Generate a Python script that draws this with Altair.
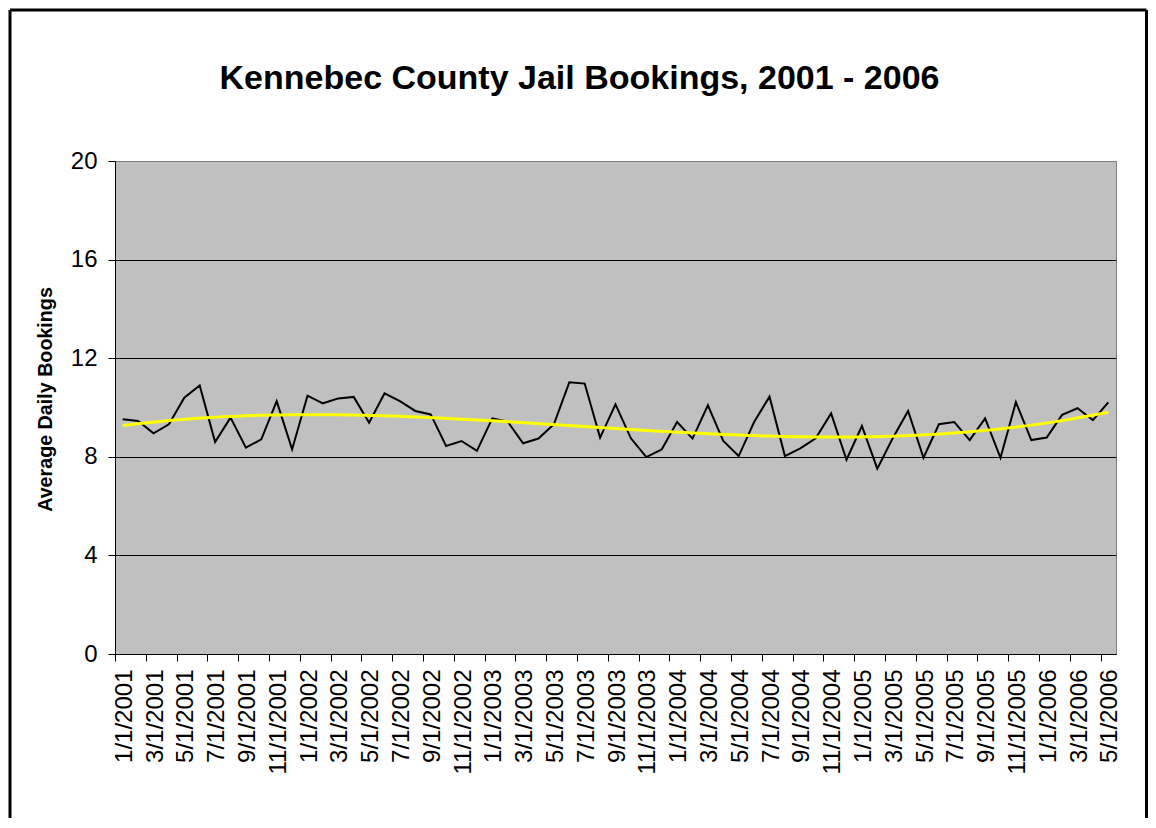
import altair as alt
import pandas as pd

months = [
    "1/1/2001", "2/1/2001", "3/1/2001", "4/1/2001", "5/1/2001", "6/1/2001",
    "7/1/2001", "8/1/2001", "9/1/2001", "10/1/2001", "11/1/2001", "12/1/2001",
    "1/1/2002", "2/1/2002", "3/1/2002", "4/1/2002", "5/1/2002", "6/1/2002",
    "7/1/2002", "8/1/2002", "9/1/2002", "10/1/2002", "11/1/2002", "12/1/2002",
    "1/1/2003", "2/1/2003", "3/1/2003", "4/1/2003", "5/1/2003", "6/1/2003",
    "7/1/2003", "8/1/2003", "9/1/2003", "10/1/2003", "11/1/2003", "12/1/2003",
    "1/1/2004", "2/1/2004", "3/1/2004", "4/1/2004", "5/1/2004", "6/1/2004",
    "7/1/2004", "8/1/2004", "9/1/2004", "10/1/2004", "11/1/2004", "12/1/2004",
    "1/1/2005", "2/1/2005", "3/1/2005", "4/1/2005", "5/1/2005", "6/1/2005",
    "7/1/2005", "8/1/2005", "9/1/2005", "10/1/2005", "11/1/2005", "12/1/2005",
    "1/1/2006", "2/1/2006", "3/1/2006", "4/1/2006", "5/1/2006",
]
bookings = [
    9.52, 9.45, 8.95, 9.32, 10.40, 10.89, 8.60, 9.59, 8.37, 8.71, 10.26, 8.30,
    10.48, 10.17, 10.37, 10.43, 9.38, 10.57, 10.26, 9.86, 9.72, 8.44, 8.64, 8.24,
    9.56, 9.43, 8.55, 8.74, 9.32, 11.02, 10.97, 8.78, 10.13, 8.75, 7.99, 8.30,
    9.41, 8.74, 10.09, 8.64, 8.03, 9.41, 10.44, 8.03, 8.34, 8.75, 9.76, 7.88,
    9.25, 7.52, 8.75, 9.86, 7.96, 9.32, 9.41, 8.68, 9.56, 7.96, 10.22, 8.68,
    8.78, 9.70, 9.97, 9.49, 10.21,
]
y_ticks = [0, 4, 8, 12, 16, 20]

W, H = 1001, 493
n = len(months)
step = W / n
FONT = "Liberation Sans"

df = pd.DataFrame({"idx": list(range(n)), "value": bookings})
label_expr = "[" + ",".join("'%s'" % m for m in months) + "][datum.value]"

x_enc = alt.X(
    "idx:Q",
    scale=alt.Scale(domain=[-0.5, n - 0.5], nice=False, zero=False),
    axis=alt.Axis(
        values=list(range(0, n, 2)), labelExpr=label_expr, labelAngle=270,
        labelFontSize=24, labelFont=FONT, labelColor="black",
        tickOffset=-step / 2, labelOffset=step / 2 + 1.5,
        tickSize=7, tickColor="black", domainColor="black", domainWidth=1,
        grid=False, title=None, labelOverlap=False, labelFlush=False,
        labelPadding=8,
    ),
)
y_enc = alt.Y(
    "value:Q",
    scale=alt.Scale(domain=[0, 20], nice=False),
    axis=alt.Axis(
        values=y_ticks, title="Average Daily Bookings", titleFont=FONT,
        titleFontSize=19.7, titleFontWeight="bold", titleColor="black",
        titlePadding=15, titleY=238, labelFontSize=24, labelFont=FONT,
        labelColor="black", labelPadding=11, tickSize=7, tickColor="black",
        domainColor="black", grid=True,
        gridColor={"condition": {"test": "datum.value === 20", "value": "#808080"},
                   "value": "#000000"},
        gridWidth=1,
    ),
)

one = alt.Data(values=[{}])
fr = dict(color="black", strokeWidth=3)
top_rule = alt.Chart(one).mark_rule(**fr).encode(
    x=alt.value(-105), x2=alt.value(1031.5), y=alt.value(-151))
left_rule = alt.Chart(one).mark_rule(**fr).encode(
    x=alt.value(-105), y=alt.value(-151), y2=alt.value(657))
right_rule = alt.Chart(one).mark_rule(**fr).encode(
    x=alt.value(1031.5), y=alt.value(-151), y2=alt.value(657))

line = alt.Chart(df).mark_line(color="black", strokeWidth=2).encode(x=x_enc, y=y_enc)

trend = (
    alt.Chart(df)
    .transform_regression("idx", "value", method="poly", order=3)
    .mark_line(color="#FFFF00", strokeWidth=3)
    .encode(x=x_enc, y=y_enc)
)

chart = (
    alt.layer(top_rule, left_rule, right_rule, line, trend)
    .properties(
        width=W, height=H, padding=0,
        view=alt.ViewBackground(fill="#C0C0C0", stroke="#808080", strokeWidth=1),
        title=alt.Title("Kennebec County Jail Bookings, 2001 - 2006", fontSize=34,
                        font=FONT, fontWeight="bold", color="black", offset=-87.5,
                        anchor="middle", dx=-36),
    )
    .configure_view(stroke="#808080", fill="#C0C0C0", strokeWidth=1)
    .configure(background="white", font=FONT)
)

chart.save("out.html", embed_options={"renderer": "svg", "actions": False})
